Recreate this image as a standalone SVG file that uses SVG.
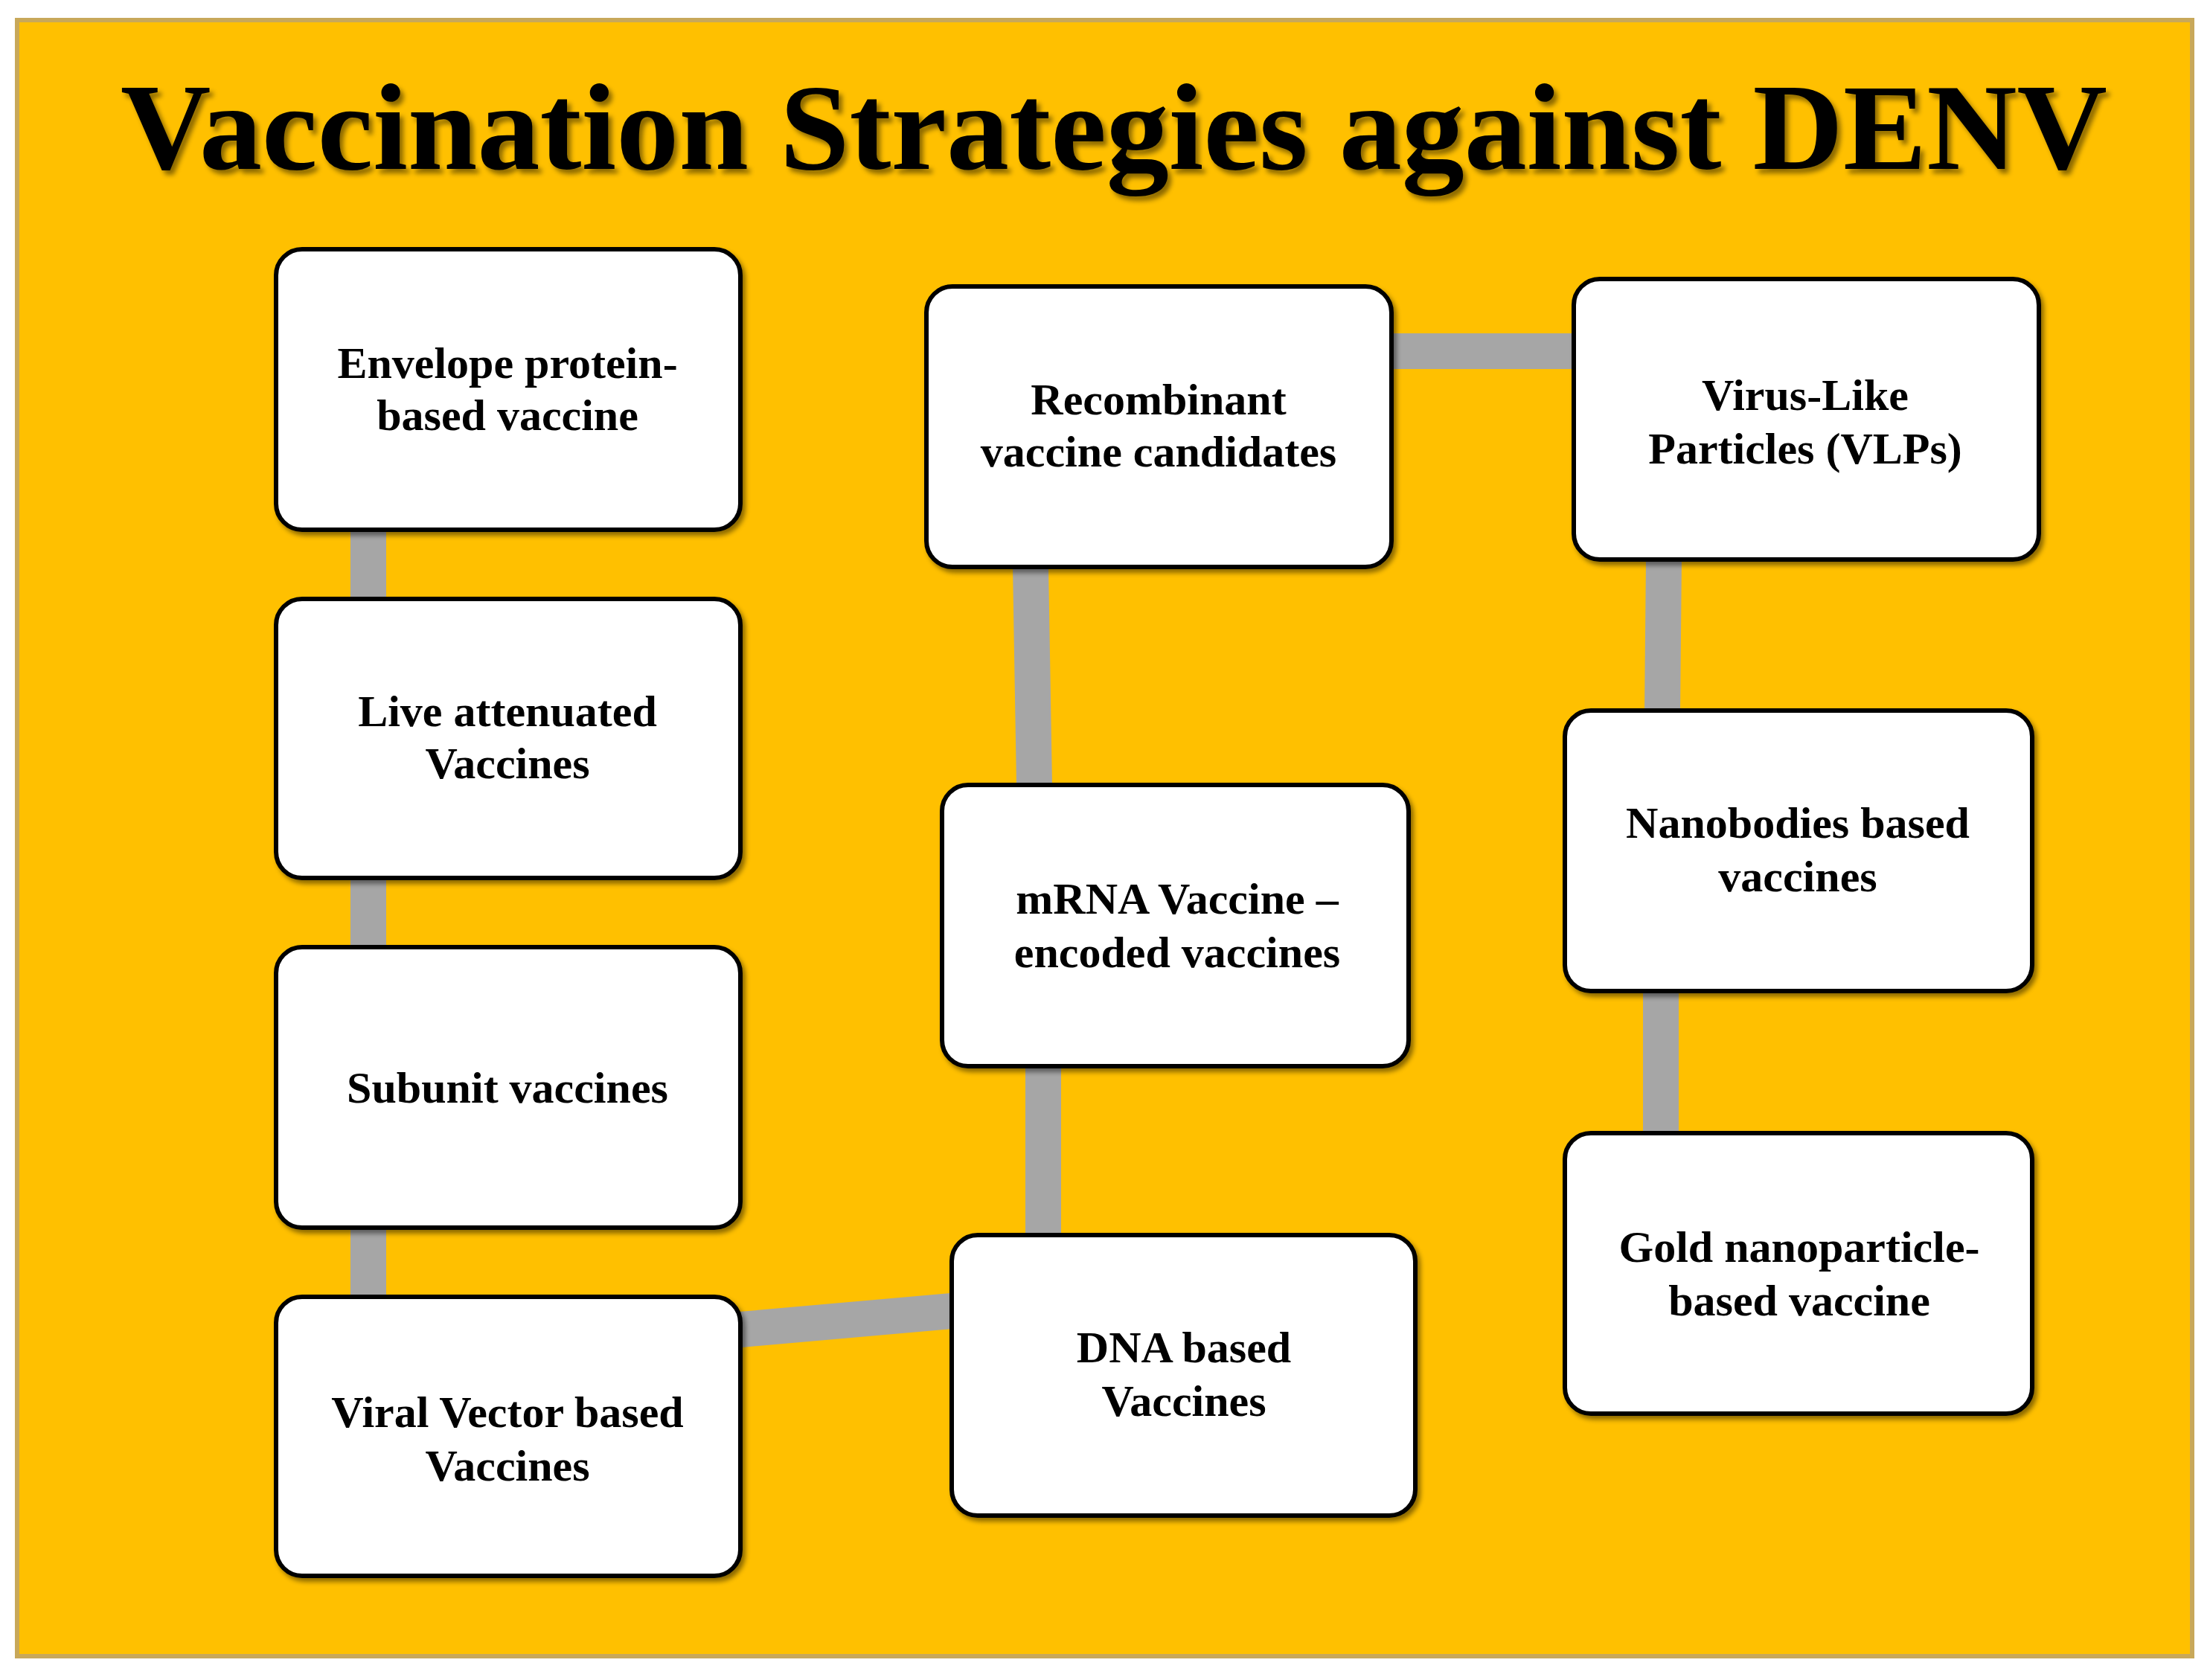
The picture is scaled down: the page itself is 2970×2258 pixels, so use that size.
<svg xmlns="http://www.w3.org/2000/svg" width="2970" height="2258" viewBox="0 0 2970 2258">
<defs>
<filter id="sh" x="-10%" y="-10%" width="130%" height="130%"><feDropShadow dx="4" dy="5" stdDeviation="3" flood-color="#000" flood-opacity="0.45"/></filter>
<filter id="ts" x="-5%" y="-20%" width="110%" height="150%"><feDropShadow dx="5" dy="6" stdDeviation="3" flood-color="#000" flood-opacity="0.45"/></filter>
</defs>
<style>
.box{fill:#fff;stroke:#000;stroke-width:6;filter:url(#sh)}
.t{font-family:"Liberation Serif",serif;font-weight:bold;font-size:60px;text-anchor:middle;fill:#000}
.c{stroke:#a6a6a6;stroke-width:48;fill:none}
</style>
<rect x="23" y="27" width="2923" height="2199" fill="#ffc000" stroke="#c8a85a" stroke-width="6"/>
<text x="1497" y="227" font-family="Liberation Serif,serif" font-weight="bold" font-size="165" text-anchor="middle" textLength="2670" lengthAdjust="spacingAndGlyphs" filter="url(#ts)">Vaccination Strategies against DENV</text>
<g id="connectors">
<line class="c" x1="495" y1="712" x2="495" y2="805"/>
<line class="c" x1="495" y1="1180" x2="495" y2="1273"/>
<line class="c" x1="495" y1="1650" x2="495" y2="1743"/>
<line class="c" x1="995" y1="1787" x2="1279" y2="1762"/>
<line class="c" x1="1385" y1="762" x2="1390" y2="1055"/>
<line class="c" x1="1402" y1="1433" x2="1402" y2="1660"/>
<line class="c" x1="1870" y1="472" x2="2115" y2="472"/>
<line class="c" x1="2236" y1="752" x2="2234" y2="955"/>
<line class="c" x1="2232" y1="1332" x2="2232" y2="1523"/>
</g>
<g id="envelope"><rect class="box" x="371" y="335" width="624" height="377" rx="35"/><text class="t" x="682" y="508">Envelope protein-</text><text class="t" x="682" y="578">based vaccine</text></g>
<g id="live"><rect class="box" x="371" y="805" width="624" height="375" rx="35"/><text class="t" x="682" y="976">Live attenuated</text><text class="t" x="682" y="1046">Vaccines</text></g>
<g id="subunit"><rect class="box" x="371" y="1273" width="624" height="377" rx="35"/><text class="t" x="682" y="1482">Subunit vaccines</text></g>
<g id="viral"><rect class="box" x="371" y="1743" width="624" height="375" rx="35"/><text class="t" x="682" y="1918">Viral Vector based</text><text class="t" x="682" y="1990">Vaccines</text></g>
<g id="recombinant"><rect class="box" x="1245" y="385" width="625" height="377" rx="35"/><text class="t" x="1557" y="557">Recombinant</text><text class="t" x="1557" y="627">vaccine candidates</text></g>
<g id="mrna"><rect class="box" x="1266" y="1055" width="627" height="378" rx="35"/><text class="t" x="1582" y="1228">mRNA Vaccine –</text><text class="t" x="1582" y="1300">encoded vaccines</text></g>
<g id="dna"><rect class="box" x="1279" y="1660" width="623" height="377" rx="35"/><text class="t" x="1591" y="1831">DNA based</text><text class="t" x="1591" y="1903">Vaccines</text></g>
<g id="vlp"><rect class="box" x="2115" y="375" width="625" height="377" rx="35"/><text class="t" x="2426" y="551">Virus-Like</text><text class="t" x="2426" y="623">Particles (VLPs)</text></g>
<g id="nanobodies"><rect class="box" x="2103" y="955" width="628" height="377" rx="35"/><text class="t" x="2416" y="1126">Nanobodies based</text><text class="t" x="2416" y="1198">vaccines</text></g>
<g id="gold"><rect class="box" x="2103" y="1523" width="628" height="377" rx="35"/><text class="t" x="2418" y="1696">Gold nanoparticle-</text><text class="t" x="2418" y="1768">based vaccine</text></g>
</svg>
